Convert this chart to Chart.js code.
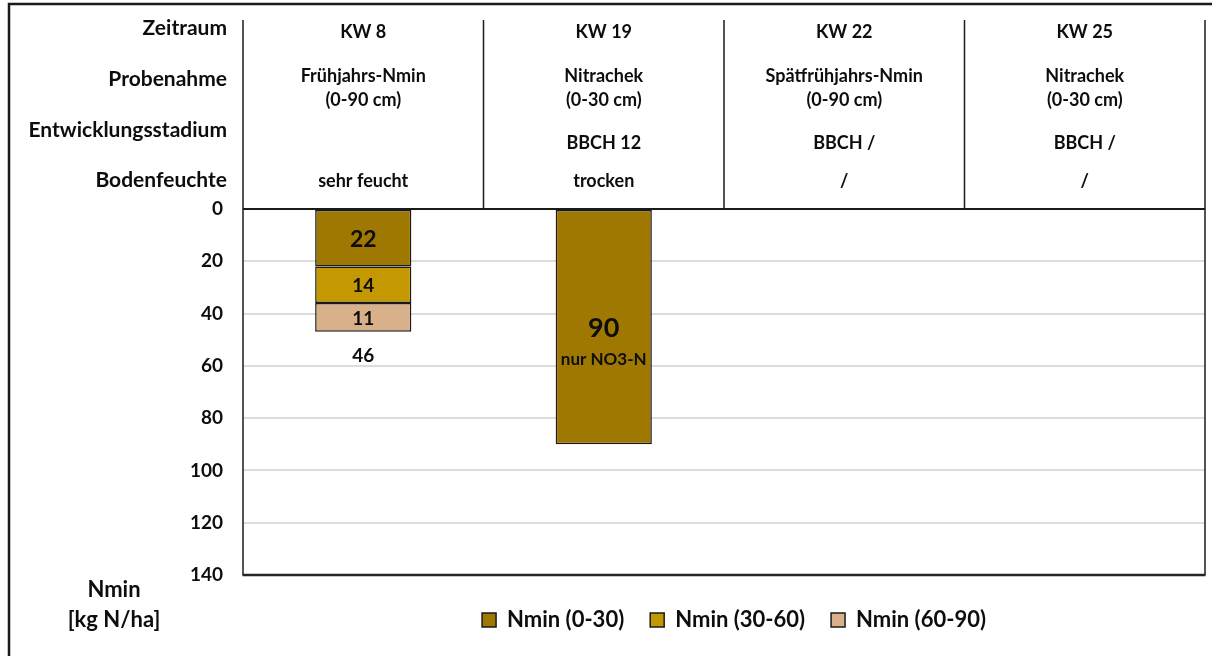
<!DOCTYPE html>
<html><head><meta charset="utf-8">
<script src="https://cdn.jsdelivr.net/npm/chart.js@4/dist/chart.umd.min.js"></script>
<style>html,body{margin:0;padding:0;background:#fff;}#wrap{width:1212px;height:656px;position:relative;}</style>
</head><body><div id="wrap"><canvas id="c"></canvas></div>
<script>
// ---- data ----
const categories = ['KW 8', 'KW 19', 'KW 22', 'KW 25'];
const probenahme = [['Frühjahrs-Nmin', '(0-90 cm)'], ['Nitrachek', '(0-30 cm)'], ['Spätfrühjahrs-Nmin', '(0-90 cm)'], ['Nitrachek', '(0-30 cm)']];
const stadium = ['', 'BBCH 12', 'BBCH /', 'BBCH /'];
const bodenfeuchte = ['sehr feucht', 'trocken', '/', '/'];
const rowLabels = ['Zeitraum', 'Probenahme', 'Entwicklungsstadium', 'Bodenfeuchte'];
const seriesNames = ['Nmin (0-30)', 'Nmin (30-60)', 'Nmin (60-90)'];
const nmin0_30 = [22, 90, null, null];
const nmin30_60 = [14, null, null, null];
const nmin60_90 = [11, null, null, null];
const totalLabels = ['46', '', '', ''];
const noteLabels = ['', 'nur NO3-N', '', ''];
const yMin = 0, yMax = 140, yStep = 20;
const axisTitle = ['Nmin', '[kg N/ha]'];

// ---- styles ----
const FONT = 'Lato';
const TXT = '#0d0d0d';
const colors = ['#9e7800', '#c49800', '#d8b089'];
Chart.defaults.font.family = FONT;
Chart.defaults.color = TXT;

const deco = {
  id: 'deco',
  afterLayout(chart) {
    const lg = chart.legend, ca = chart.chartArea;
    const shift = (ca.left + ca.right) / 2 + 10 - (lg.left + lg.right) / 2;
    lg.left += shift; lg.right += shift;
  },
  afterDatasetsDraw(chart) {
    const ctx = chart.ctx, ca = chart.chartArea, xs = chart.scales.x;
    ctx.save();
    // labels on bars
    ctx.textAlign = 'center'; ctx.textBaseline = 'middle'; ctx.fillStyle = TXT;
    const bottoms = categories.map(() => null);
    chart.data.datasets.forEach((ds, i) => {
      const meta = chart.getDatasetMeta(i);
      meta.data.forEach((el, j) => {
        const v = ds.data[j];
        if (v === null || v === undefined) return;
        const top = Math.min(el.y, el.base), bot = Math.max(el.y, el.base);
        const yc = (top + bot) / 2;
        bottoms[j] = Math.max(bottoms[j] || 0, bot);
        let size = 19;
        if (i === 0) size = (bot - top) > 100 ? 27 : 23;
        ctx.font = `bold ${size}px ${FONT}`;
        ctx.fillText(String(v), el.x, yc + 1);
        if (i === 0 && noteLabels[j]) {
          ctx.font = `bold 17px ${FONT}`;
          ctx.fillText(noteLabels[j], el.x, yc + 32);
        }
      });
    });
    categories.forEach((c, j) => {
      if (totalLabels[j] && bottoms[j] !== null) {
        ctx.font = `bold 19px ${FONT}`;
        ctx.fillText(totalLabels[j], xs.getPixelForValue(j), bottoms[j] + 24);
      }
    });
    // frame and header grid
    ctx.strokeStyle = '#1a1a1a';
    const hTop = 20;
    const bounds = [];
    for (let j = 0; j < categories.length; j++) {
      const c = xs.getPixelForValue(j);
      const half = (xs.getPixelForValue(1) - xs.getPixelForValue(0)) / 2;
      if (j === 0) bounds.push(c - half);
      bounds.push(c + half);
    }
    ctx.lineWidth = 1.5;
    bounds.forEach((b, k) => {
      ctx.beginPath();
      ctx.moveTo(b, hTop);
      ctx.lineTo(b, (k === 0 || k === bounds.length - 1) ? ca.bottom : ca.top);
      ctx.stroke();
    });
    ctx.lineWidth = 2;
    ctx.beginPath(); ctx.moveTo(ca.left, ca.top); ctx.lineTo(ca.right, ca.top); ctx.stroke();
    ctx.lineWidth = 2.5; ctx.strokeStyle = '#262626';
    ctx.beginPath(); ctx.moveTo(ca.left - 0.5, ca.bottom); ctx.lineTo(ca.right + 0.5, ca.bottom); ctx.stroke();
    // outer frame
    ctx.lineWidth = 2.5; ctx.strokeStyle = '#1a1a1a';
    ctx.beginPath(); ctx.moveTo(9, chart.height); ctx.lineTo(9, 4); ctx.lineTo(chart.width, 4); ctx.stroke();
    // header texts
    ctx.fillStyle = TXT; ctx.textBaseline = 'alphabetic';
    ctx.font = `bold 21px ${FONT}`;
    ctx.textAlign = 'right';
    const rowBase = [35, 86, 136.5, 187];
    rowLabels.forEach((t, k) => ctx.fillText(t, 227, rowBase[k]));
    ctx.textAlign = 'center';
    ctx.font = `bold 18px ${FONT}`;
    categories.forEach((c, j) => {
      const x = xs.getPixelForValue(j);
      ctx.fillText(c, x, 38);
      ctx.fillText(probenahme[j][0], x, 82);
      ctx.fillText(probenahme[j][1], x, 106);
      ctx.fillText(stadium[j], x, 149);
      ctx.fillText(bodenfeuchte[j], x, 187);
    });
    // axis title
    ctx.font = `bold 22px ${FONT}`;
    ctx.textBaseline = 'middle';
    ctx.fillText(axisTitle[0], 114, 590);
    ctx.fillText(axisTitle[1], 114, 620);
    ctx.restore();
  }
};

const mk = (label, data, col) => ({
  label, data, backgroundColor: col, borderColor: '#1a1a1a', borderWidth: 1.5,
  borderSkipped: false, barPercentage: 0.4, categoryPercentage: 1.0
});

new Chart(document.getElementById('c'), {
  type: 'bar',
  data: {
    labels: categories,
    datasets: [
      mk(seriesNames[0], nmin0_30, colors[0]),
      mk(seriesNames[1], nmin30_60, colors[1]),
      mk(seriesNames[2], nmin60_90, colors[2])
    ]
  },
  options: {
    responsive: true, maintainAspectRatio: false, animation: false,
    layout: { padding: { left: 0, right: 7, top: 209, bottom: 15 } },
    plugins: {
      tooltip: { enabled: false },
      legend: {
        position: 'bottom',
        labels: { boxWidth: 14, boxHeight: 14, padding: 26, color: TXT, font: { size: 22, weight: 'bold', family: FONT } }
      }
    },
    scales: {
      x: {
        stacked: true,
        grid: { display: false }, border: { display: false }, ticks: { display: false },
        afterFit: (s) => { s.height = 8; }
      },
      y: {
        stacked: true, reverse: true, min: yMin, max: yMax,
        afterFit: (s) => { s.width = 243; },
        border: { display: false },
        grid: {
          drawTicks: false, lineWidth: 2,
          color: (c) => (c.tick && (c.tick.value === yMin || c.tick.value === yMax)) ? 'rgba(0,0,0,0)' : '#dcdcdc'
        },
        ticks: { stepSize: yStep, padding: 20, color: TXT, font: { size: 19, weight: 'bold', family: FONT } }
      }
    }
  },
  plugins: [deco]
});
</script></body></html>
